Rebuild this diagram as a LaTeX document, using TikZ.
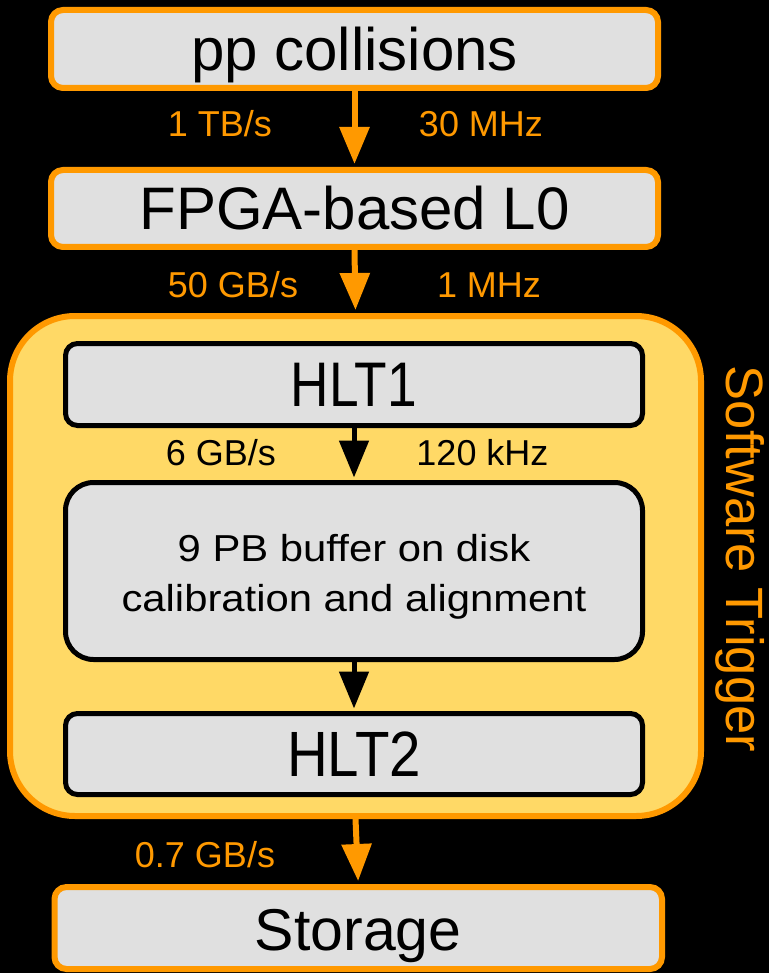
\documentclass[tikz,border=0pt]{standalone}
\usepackage{fontspec}
\setmainfont{Liberation Sans}
\usetikzlibrary{arrows.meta}
\definecolor{lhcborange}{HTML}{FF9900}
\definecolor{trigfill}{HTML}{FFD966}
\definecolor{boxgray}{HTML}{E0E0E0}

\begin{document}
\begin{tikzpicture}[x=1pt,y=-1pt,
  outerstage/.style={draw=lhcborange, line width=6pt, fill=boxgray,
    rounded corners=12pt, inner sep=0pt, minimum width=607pt,
    font=\fontsize{60}{72}\selectfont, text=black, text depth=0pt},
  trigstage/.style={draw=black, line width=5pt, fill=boxgray,
    rounded corners=12pt, inner sep=0pt, minimum width=577pt,
    font=\fontsize{63}{75}\selectfont, text=black, text depth=0pt},
  rate/.style={anchor=base, text=lhcborange, font=\fontsize{36}{43}\selectfont, inner sep=0pt},
  innerrate/.style={rate, text=black},
  flow/.style={draw=lhcborange, line width=6pt, -{Triangle[width=29pt,length=37pt]}},
  innerflow/.style={draw=black, line width=5pt, -{Triangle[width=29pt,length=37pt]}}
]
% page and background
\useasboundingbox (0,0) rectangle (769,973);
\fill[black] (0,0) rectangle (769,973);

% software trigger container
\node[draw=lhcborange, line width=6pt, fill=trigfill, rounded corners=65pt,
  minimum width=691pt, minimum height=500pt, inner sep=0pt] (swt) at (355.5,566) {};
\node[rotate=-90, anchor=base, text=lhcborange, inner sep=0pt,
  font=\fontsize{52.5}{62}\selectfont] (swtlabel) at (726,559) {Software Trigger};

% stages
\node[outerstage, minimum height=78pt, text height=44pt] (pp) at (354.5,49) {pp collisions};
\node[outerstage, minimum height=77pt, text height=43pt] (l0) at (354.5,208.5) {FPGA-based L0};
\node[trigstage, minimum height=82pt, text height=44.4pt] (hlt1) at (354,384.5) {\scalebox{0.845}[1]{HLT1}};
% two-line box: the baseline of the node is that of its last line
\node[trigstage, minimum height=177pt, rounded corners=28pt, align=center,
  font=\fontsize{37.5}{50}\selectfont, text height=90pt, text depth=8.6pt] (buffer) at (354,571)
  {\scalebox{1.115}[1]{9 PB buffer on disk}\\\scalebox{1.115}[1]{calibration and alignment}};
\node[trigstage, minimum height=81pt, text height=45.4pt,
  font=\fontsize{64}{76}\selectfont] (hlt2) at (354,754) {\scalebox{0.882}[1]{HLT2}};
\node[outerstage, minimum width=607.5pt, minimum height=82pt, text height=44pt,
  font=\fontsize{59}{71}\selectfont] (storage) at (358.25,928) {Storage};

% data flow
\draw[flow, shorten >=3pt] (pp.south) -- (l0.north);
\draw[flow, shorten >=3pt] (l0.south) -- (swt.north);
\draw[innerflow, shorten >=2.5pt] (hlt1.south) -- (buffer.north);
\draw[innerflow, shorten >=2.5pt] (buffer.south) -- (hlt2.north);
\draw[flow, shorten >=3pt] (swt.south) -- (storage.north);

% bandwidths and rates
\node[rate] (bw1) at (220,137) {1 TB/s};
\node[rate] (rt1) at (481,137) {30 MHz};
\node[rate] (bw2) at (233,297) {50 GB/s};
\node[rate] (rt2) at (489,297) {1 MHz};
\node[innerrate] (bw3) at (221,465) {6 GB/s};
\node[innerrate] (rt3) at (482.5,465) {120 kHz};
\node[rate] (bw4) at (205,867) {0.7 GB/s};
\end{tikzpicture}
\end{document}
